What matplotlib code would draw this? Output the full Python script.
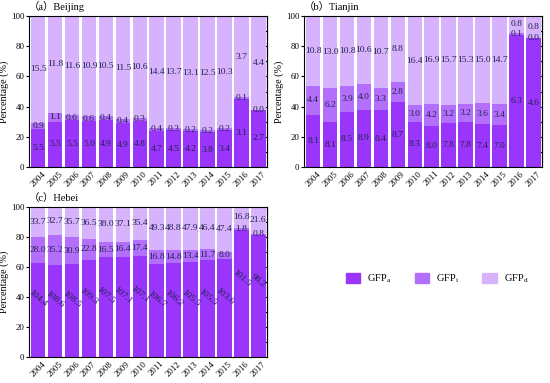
import matplotlib
matplotlib.use("Agg")
import matplotlib.pyplot as plt
from matplotlib.patches import Patch
import numpy as np

plt.rcParams['font.family'] = ['Liberation Serif', 'Noto Sans CJK SC']
plt.rcParams['mathtext.fontset'] = 'custom'
plt.rcParams['mathtext.rm'] = 'Liberation Serif'
plt.rcParams['mathtext.it'] = 'Liberation Serif:italic'

years = [str(y) for y in range(2004, 2018)]

# Beijing
bj_a = [5.5, 5.5, 5.5, 5.0, 4.9, 4.9, 4.8, 4.7, 4.5, 4.2, 3.8, 3.4, 3.1, 2.7]
bj_i = [0.9, 1.1, 0.6, 0.6, 0.4, 0.4, 0.3, 0.4, 0.3, 0.2, 0.2, 0.2, 0.1, 0.0]
bj_d = [15.5, 11.8, 11.6, 10.9, 10.5, 11.5, 10.6, 14.4, 13.7, 13.1, 12.5, 10.3, 3.7, 4.4]

# Tianjin
tj_a = [8.1, 8.1, 8.5, 8.9, 8.4, 8.7, 8.3, 8.0, 7.8, 7.8, 7.4, 7.0, 6.3, 4.6]
tj_i = [4.4, 6.2, 3.9, 4.0, 3.3, 2.8, 3.0, 4.2, 3.2, 3.2, 3.6, 3.4, 0.1, 0.0]
tj_d = [10.8, 13.0, 10.8, 10.6, 10.7, 8.8, 16.4, 16.9, 15.7, 15.3, 15.0, 14.7, 0.8, 0.8]

# Hebei
hb_a = [104.4, 108.6, 108.5, 109.3, 107.5, 107.1, 107.1, 106.7, 106.2, 105.5, 105.5, 103.6, 101.5, 98.2]
hb_i = [28.0, 35.2, 30.9, 22.8, 16.5, 16.4, 17.4, 16.8, 14.8, 13.4, 11.7, 8.0, 1.8, 0.8]
hb_d = [33.7, 32.7, 35.7, 36.5, 38.0, 37.1, 35.4, 49.3, 48.8, 47.9, 46.4, 47.4, 16.8, 21.6]

c_a, c_i, c_d = '#9a35fb', '#b46efc', '#d8b3fd'
txt_col = '#22224e'

fig = plt.figure(figsize=(5.5, 3.83), dpi=100)
ax_a = fig.add_axes([0.053, 0.564, 0.433, 0.394])
ax_b = fig.add_axes([0.553, 0.564, 0.433, 0.394])
ax_c = fig.add_axes([0.053, 0.068, 0.433, 0.392])


def draw(ax, a, i, d, title, rot_a=False):
    a, i, d = np.array(a), np.array(i), np.array(d)
    tot = a + i + d
    pa, pi, pd = a / tot * 100, i / tot * 100, d / tot * 100
    x = np.arange(len(years))
    w = 0.85
    ax.bar(x, pa, w, color=c_a)
    ax.bar(x, pi, w, bottom=pa, color=c_i)
    ax.bar(x, pd, w, bottom=pa + pi, color=c_d)
    for k in range(len(x)):
        if rot_a:
            ax.text(x[k], pa[k] * 0.62, f'{a[k]:.1f}', ha='center', va='center',
                    rotation=-40, fontsize=6.8, color=txt_col)
        else:
            ax.text(x[k], pa[k] / 2, f'{a[k]:.1f}', ha='center', va='center',
                    fontsize=6.8, color=txt_col)
        ax.text(x[k], pa[k] + pi[k] / 2, f'{i[k]:.1f}', ha='center', va='center',
                fontsize=6.8, color=txt_col)
        ax.text(x[k], pa[k] + pi[k] + pd[k] / 2, f'{d[k]:.1f}', ha='center', va='center',
                fontsize=6.8, color=txt_col)
    ax.set_xlim(-0.53, 13.53)
    ax.set_ylim(0, 100)
    ax.set_xticks(x)
    ax.set_xticklabels(years, rotation=45, fontsize=6.3)
    ax.set_yticks([0, 20, 40, 60, 80, 100])
    ax.tick_params(axis='y', labelsize=6.3, length=2, pad=1.5, direction='out')
    ax.tick_params(axis='x', length=0, pad=2)
    ax.set_ylabel('Percentage (%)', fontsize=7.3, labelpad=1)
    ax.text(0.0, 1.025, title, transform=ax.transAxes, fontsize=7.5, ha='left', va='bottom')
    sec = ax.secondary_yaxis('right')
    sec.set_yticks(np.arange(10, 100, 10))
    sec.tick_params(direction='in', length=2.5, labelright=False)
    for s in ax.spines.values():
        s.set_linewidth(0.8)


draw(ax_a, bj_a, bj_i, bj_d, '（a）Beijing')
draw(ax_b, tj_a, tj_i, tj_d, '（b）Tianjin')
draw(ax_c, hb_a, hb_i, hb_d, '（c）Hebei', rot_a=True)

handles = [Patch(color=c_a), Patch(color=c_i), Patch(color=c_d)]
labels = [r'GFP$_\mathrm{a}$', r'GFP$_\mathrm{i}$', r'GFP$_\mathrm{d}$']
fig.legend(handles, labels, loc='center', bbox_to_anchor=(0.795, 0.272), ncol=3,
           frameon=False, fontsize=7.5, handlelength=1.4, handleheight=1.2,
           columnspacing=2.2, handletextpad=0.7)

fig.savefig('out.png', dpi=100)
